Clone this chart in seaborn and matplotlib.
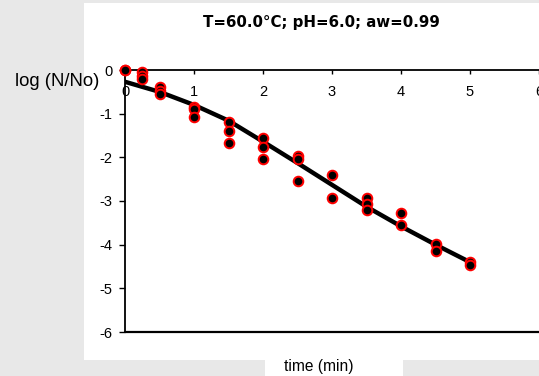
import matplotlib
matplotlib.use("Agg")
import matplotlib.pyplot as plt
from matplotlib.patches import Rectangle
import seaborn as sns
import pandas as pd

# observed data
time_obs = [0, 0, 0.25, 0.25, 0.25, 0.5, 0.5, 0.5, 1, 1, 1, 1.5, 1.5, 1.5,
            2, 2, 2, 2.5, 2.5, 2.5, 3, 3, 3.5, 3.5, 3.5, 4, 4, 4.5, 4.5, 5, 5]
logN_obs = [0, 0, -0.05, -0.14, -0.2, -0.38, -0.47, -0.55, -0.85, -0.89, -1.08,
            -1.18, -1.39, -1.67, -1.55, -1.76, -2.04, -1.98, -2.04, -2.54,
            -2.40, -2.93, -2.93, -3.06, -3.21, -3.27, -3.55, -3.98, -4.15,
            -4.40, -4.46]
# fitted curve
time_fit = [0, 0.5, 1, 1.5, 2, 2.5, 3, 3.5, 4, 4.5, 5]
logN_fit = [-0.27, -0.50, -0.80, -1.16, -1.64, -2.13, -2.63, -3.13, -3.58, -4.0, -4.40]

x_ticks = [0, 1, 2, 3, 4, 5, 6]
y_ticks = [0, -1, -2, -3, -4, -5, -6]
title = "T=60.0\u00b0C; pH=6.0; aw=0.99"

sns.set_style("white")
plt.rcParams['font.family'] = ['Liberation Sans', 'DejaVu Sans']
plt.rcParams['text.color'] = 'black'

fig = plt.figure(figsize=(5.39, 3.76), dpi=100, facecolor='#e8e8e8')
W, H = 539, 376
fig.patches.append(Rectangle((84 / W, 1 - 360 / H), (W - 84) / W, 357 / H,
                             transform=fig.transFigure, facecolor='white',
                             edgecolor='none', zorder=-10))
fig.patches.append(Rectangle((265 / W, 0), 138 / W, 17 / H,
                             transform=fig.transFigure, facecolor='white',
                             edgecolor='none', zorder=-10))

ax = fig.add_axes([125 / W, 1 - 332 / H, 414 / W, 262 / H])
ax.set_facecolor('none')

df_obs = pd.DataFrame({'t': time_obs, 'y': logN_obs})
df_fit = pd.DataFrame({'t': time_fit, 'y': logN_fit})

sns.lineplot(data=df_fit, x='t', y='y', ax=ax, color='black', linewidth=3.2,
             zorder=3)
sns.scatterplot(data=df_obs, x='t', y='y', ax=ax, color='black',
                edgecolor='red', linewidth=1.4, s=48, zorder=4, clip_on=False)

ax.set_xlim(0, 6)
ax.set_ylim(-6, 0)
ax.set_xticks(x_ticks)
ax.set_yticks(y_ticks)
ax.set_xticklabels([str(v) for v in x_ticks])
ax.set_yticklabels([str(v) for v in y_ticks])

ax.spines['bottom'].set_position(('data', 0))
ax.spines['top'].set_visible(False)
ax.spines['right'].set_visible(False)
for s in ['bottom', 'left']:
    ax.spines[s].set_linewidth(1.3)
    ax.spines[s].set_color('black')
ax.axhline(-6, color='black', linewidth=1.6, zorder=2, clip_on=False)

ax.tick_params(axis='x', direction='out', length=3, width=1, pad=8,
               labelsize=10.5, colors='black', bottom=True)
ax.tick_params(axis='y', direction='out', length=4, width=1, pad=5,
               labelsize=10.5, colors='black', left=True)

ax.set_xlabel('')
ax.set_ylabel('')
fig.text(57 / W, 1 - 82 / H, 'log (N/No)', fontsize=13.3, ha='center',
         va='center', color='black')
fig.text(319 / W, 1 - 367 / H, 'time (min)', fontsize=11.2, ha='center',
         va='center', color='black')
fig.text(321 / W, 1 - 22 / H, title, fontsize=10.8, fontweight='bold',
         family='DejaVu Sans', ha='center', va='center', color='black')

fig.savefig('out.png', dpi=100, facecolor=fig.get_facecolor())
